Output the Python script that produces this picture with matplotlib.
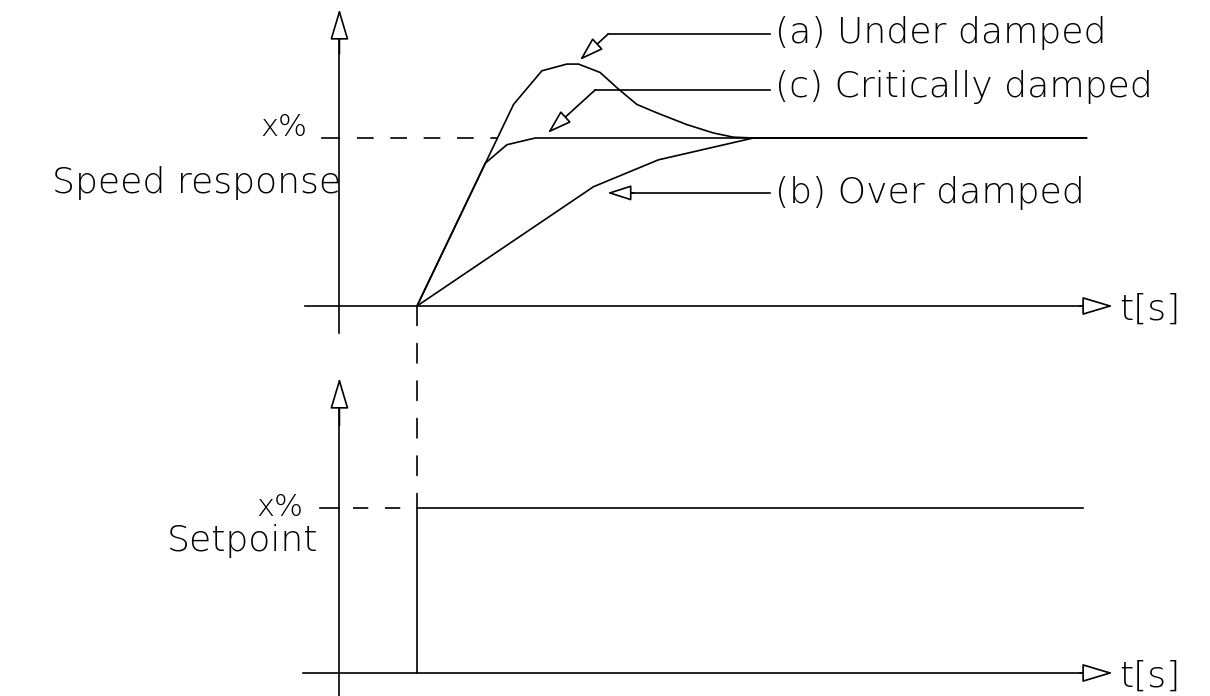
import matplotlib
matplotlib.use('Agg')
import matplotlib.pyplot as plt
from matplotlib.patches import ConnectionPatch

'''
Step response sketch: speed response of a drive for the three damping cases (top) and the setpoint
step that causes it (bottom). Time is in arbitrary units, levels are relative to the x% setpoint.
'''

# Under damped response (a).
underT = [0, 2.9, 3.75, 4.5, 4.85, 5.5, 6.0, 6.6, 7.2, 8.1, 8.9, 9.5, 10.1, 20.1]
underVals = [0, 1.20, 1.40, 1.44, 1.44, 1.39, 1.30, 1.20, 1.15, 1.08, 1.03, 1.005, 1.0, 1.0]

# Critically damped response (c).
critT = [0, 2.05, 2.7, 3.55, 20.1]
critVals = [0, 0.85, 0.96, 1.0, 1.0]

# Over damped response (b).
overT = [0, 5.3, 7.25, 10.1, 20.1]
overVals = [0, 0.71, 0.87, 1.0, 1.0]

# Setpoint step.
setT = [0, 0, 20.0]
setVals = [0, 1, 1]
setLevel = 1.0

# Labels.
curveLabels = ['(a) Under damped', '(c) Critically damped', '(b) Over damped']
topYLabel = 'Speed response'
botYLabel = 'Setpoint'
levelLabel = 'x%'
timeLabel = 't[s]'

# Figure layout in pixels (figure is 1210 x 696 at 100 dpi).
T0_PX, PX_PER_T = 417, 33.3
FONT = dict(family='DejaVu Sans', fontweight=200, fontsize=26)
SMALL = dict(family='DejaVu Sans', fontweight=200, fontsize=22)
LW = 1.2

plt.rcParams['lines.scale_dashes'] = False


def arrowAxis(ax, start, tip, headLen=1.94, headWidth=0.58):
    '''
    Draws a line ending in a hollow triangular arrow head.
    '''
    ax.annotate('', xy=tip, xytext=start,
                arrowprops=dict(arrowstyle='-|>,head_length={},head_width={}'.format(headLen, headWidth),
                                mutation_scale=10, fc='white', ec='black', lw=LW,
                                shrinkA=0, shrinkB=0))


def setupAxes(ax, yZeroPx, pxPerUnit, topPx, botPx):
    '''
    Maps the axes data range so one time unit / level unit has a fixed pixel size.
    '''
    ax.set_xlim(-T0_PX / PX_PER_T, (1210 - T0_PX) / PX_PER_T)
    ax.set_ylim((yZeroPx - botPx) / pxPerUnit, (yZeroPx - topPx) / pxPerUnit)
    ax.axis('off')


def leader(ax, textX, cornerX, cornerY, tip):
    '''
    Horizontal leader from a label, bending down to an arrow pointing at a curve.
    '''
    ax.plot([cornerX, textX], [cornerY, cornerY], color='black', lw=LW)
    arrowAxis(ax, (cornerX, cornerY), tip, headLen=1.5, headWidth=0.48)


def main():
    fig = plt.figure(figsize=(12.1, 6.96), dpi=100)
    axTop = fig.add_axes([0, 0.5, 1, 0.5])
    axBot = fig.add_axes([0, 0, 1, 0.5])
    setupAxes(axTop, 306, 168, 0, 348)
    setupAxes(axBot, 673, 165, 348, 696)

    axisT = -2.33
    tipT = 20.9

    # ---- Top: speed response ----
    axTop.plot([axisT, axisT], [-0.161, 1.6], color='black', lw=LW)
    arrowAxis(axTop, (axisT, 1.5), (axisT, 1.768))
    axTop.plot([-3.36, tipT - 0.5], [0, 0], color='black', lw=LW)
    arrowAxis(axTop, (tipT - 1, 0), (tipT, 0))
    axTop.text(21.1, -0.02, timeLabel, ha='left', va='center', **FONT)

    axTop.plot(underT, underVals, color='black', lw=LW)
    axTop.plot(critT, critVals, color='black', lw=LW)
    axTop.plot(overT, overVals, color='black', lw=LW)

    # x% level marker and dashed guide.
    axTop.plot([-2.85, axisT], [setLevel, setLevel], color='black', lw=LW)
    axTop.plot([-1.8, 2.4], [setLevel, setLevel], color='black', lw=LW, ls=(0, (12, 12)))
    axTop.text(-3.3, setLevel + 0.01, levelLabel, ha='right', va='baseline', **SMALL)
    axTop.text(-2.28, 0.67, topYLabel, ha='right', va='baseline', **FONT)

    # Curve labels with leaders.
    labelT = 10.75
    leader(axTop, 10.6, 5.74, 1.619, (4.89, 1.464))
    leader(axTop, 10.6, 5.35, 1.286, (3.93, 1.03))
    axTop.plot([10.6, 6.3], [0.673, 0.673], color='black', lw=LW)
    arrowAxis(axTop, (6.5, 0.673), (5.71, 0.673), headLen=1.5, headWidth=0.48)
    axTop.text(labelT, 1.565, curveLabels[0], ha='left', va='baseline', **FONT)
    axTop.text(labelT, 1.244, curveLabels[1], ha='left', va='baseline', **FONT)
    axTop.text(labelT, 0.613, curveLabels[2], ha='left', va='baseline', **FONT)

    # ---- Bottom: setpoint ----
    axBot.plot([axisT, axisT], [-0.2, 1.6], color='black', lw=LW)
    arrowAxis(axBot, (axisT, 1.5), (axisT, 1.788))
    axBot.plot([-3.42, tipT - 0.5], [0, 0], color='black', lw=LW)
    arrowAxis(axBot, (tipT - 1, 0), (tipT, 0))
    axBot.text(21.1, -0.02, timeLabel, ha='left', va='center', **FONT)

    axBot.plot(setT, setVals, color='black', lw=LW)
    axBot.plot([-2.91, axisT], [setLevel, setLevel], color='black', lw=LW)
    axBot.plot([-1.92, 0], [setLevel, setLevel], color='black', lw=LW, ls=(0, (11, 12)))
    axBot.text(-3.42, 0.95, levelLabel, ha='right', va='baseline', **SMALL)
    axBot.text(-2.97, 0.74, botYLabel, ha='right', va='baseline', **FONT)

    # Dashed link from the step instant down to the setpoint step.
    con = ConnectionPatch(xyA=(0, 0), coordsA=axTop.transData, xyB=(0, setLevel), coordsB=axBot.transData,
                          color='black', lw=LW, linestyle=(0, (14, 13)))
    fig.add_artist(con)

    fig.savefig('out.png', dpi=100, facecolor='white')


if __name__ == '__main__':
    main()
